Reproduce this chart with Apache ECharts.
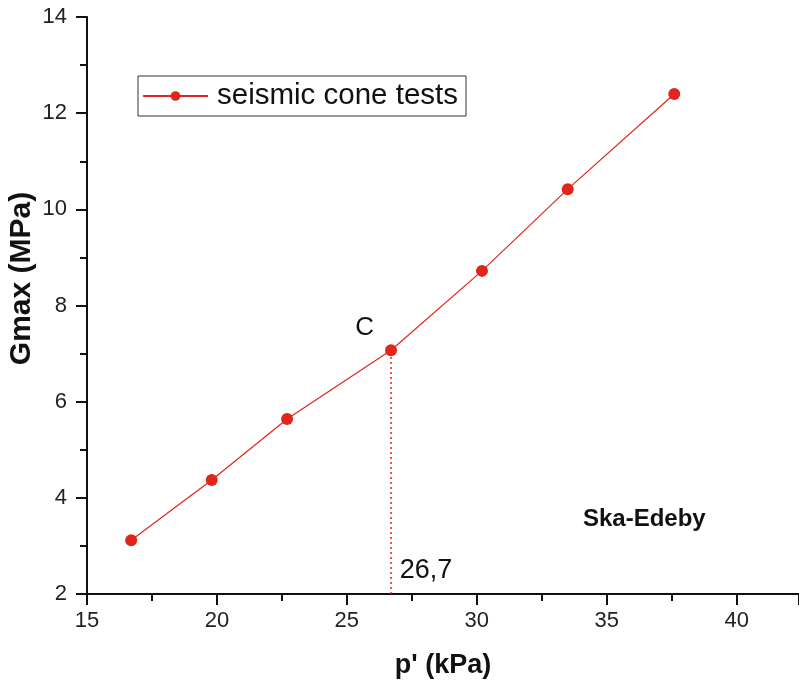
<!DOCTYPE html>
<html>
<head>
<meta charset="utf-8">
<script src="https://cdn.jsdelivr.net/npm/echarts@6/dist/echarts.min.js"></script>
<style>
  html, body { margin: 0; padding: 0; background: #fff; }
  #chart { width: 799px; height: 687px; }
</style>
</head>
<body>
<div id="chart"></div>
<script>
// p' (kPa) vs Gmax (MPa)
var pValues = [16.7, 19.8, 22.7, 26.7, 30.2, 33.5, 37.6];
var gmaxValues = [3.12, 4.37, 5.64, 7.07, 8.72, 10.42, 12.4];
var seriesName = 'seismic cone tests';
var markP = 26.7;
var markLabel = '26,7';
var pointLabel = 'C';
var siteName = 'Ska-Edeby';

var red = '#e1251b';
var font = 'Liberation Sans, Arial, sans-serif';

var points = [];
for (var i = 0; i < pValues.length; i++) {
  var pt = { value: [pValues[i], gmaxValues[i]] };
  if (pValues[i] === markP) {
    pt.label = {
      show: true, formatter: pointLabel, position: 'left',
      offset: [-6, -22], color: '#111', fontSize: 26, fontFamily: font
    };
  }
  points.push(pt);
}
var markG = gmaxValues[pValues.indexOf(markP)];

var chart = echarts.init(document.getElementById('chart'));

var option = {
  animation: false,
  grid: { left: 87, top: 17, right: 0, bottom: 93, containLabel: false, outerBoundsMode: 'none' },
  legend: {
    data: [seriesName],
    left: 138, top: 76,
    padding: [5, 8, 5, 4],
    borderColor: '#333', borderWidth: 1,
    itemWidth: 65, itemHeight: 12, itemGap: 8,
    textStyle: { fontSize: 29.5, color: '#111', fontFamily: font, padding: [0, 0, 0, 4] }
  },
  xAxis: {
    type: 'value', min: 15, max: 42.4, interval: 5,
    name: "p' (kPa)", nameLocation: 'middle', nameGap: 58, nameMoveOverlap: false,
    nameTextStyle: { fontSize: 27, fontWeight: 'bold', color: '#111', fontFamily: font },
    axisLine: { lineStyle: { color: '#111', width: 2 } },
    axisTick: { inside: false, length: 11, lineStyle: { color: '#111', width: 2 } },
    minorTick: { show: true, splitNumber: 2, length: 7, lineStyle: { color: '#111', width: 2 } },
    axisLabel: {
      fontSize: 22, color: '#222', margin: 16, fontFamily: font,
      formatter: function (v) { return v > 42 ? '' : v; }
    },
    splitLine: { show: false }
  },
  yAxis: {
    type: 'value', min: 2, max: 14, interval: 2,
    name: 'Gmax (MPa)', nameLocation: 'middle', nameGap: 50, nameRotate: 90, nameMoveOverlap: false,
    nameTextStyle: {
      fontSize: 30, fontWeight: 'bold', color: '#111', fontFamily: font,
      padding: [0, 0, 0, 54]
    },
    axisLine: { show: true, lineStyle: { color: '#111', width: 2 } },
    axisTick: { show: true, inside: false, length: 11, lineStyle: { color: '#111', width: 2 } },
    minorTick: { show: true, splitNumber: 2, length: 7, lineStyle: { color: '#111', width: 2 } },
    axisLabel: { fontSize: 22, color: '#222', margin: 20, fontFamily: font },
    splitLine: { show: false }
  },
  series: [{
    name: seriesName,
    type: 'line',
    data: points,
    symbol: 'circle',
    symbolSize: 12,
    itemStyle: { color: red },
    lineStyle: { color: red, width: 1.2 },
    markLine: {
      silent: true,
      symbol: ['none', 'none'],
      lineStyle: { color: red, type: [2, 3], width: 1.5 },
      label: {
        show: true, position: 'start', formatter: markLabel,
        color: '#111', fontSize: 27, fontFamily: font,
        offset: [35, -42]
      },
      data: [[{ coord: [markP, 2] }, { coord: [markP, markG] }]]
    }
  }],
  graphic: [{
    type: 'text', left: 583, top: 507,
    style: { text: siteName, fill: '#111', font: 'bold 24px ' + font }
  }]
};

chart.setOption(option);
</script>
</body>
</html>
